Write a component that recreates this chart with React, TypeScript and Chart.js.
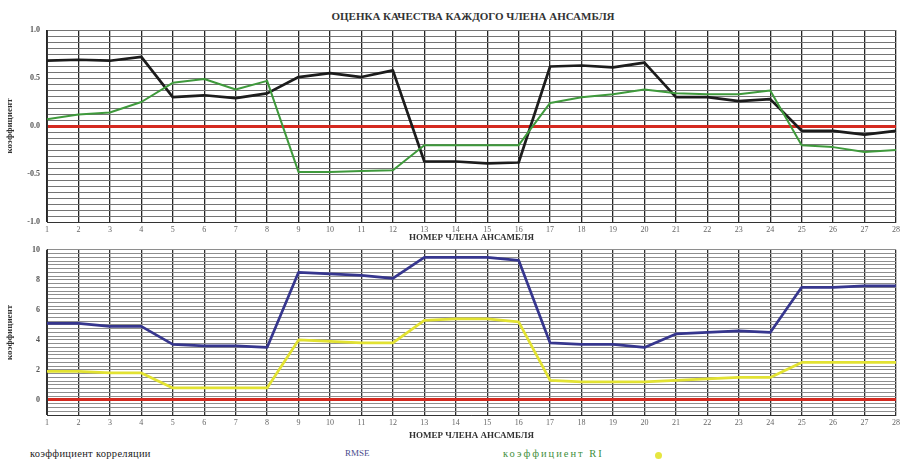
import React, { useEffect, useRef } from 'react';
import { Chart, registerables } from 'chart.js';

Chart.register(...registerables);

// Ensemble member numbers along the x axis
const members = ['1', '2', '3', '4', '5', '6', '7', '8', '9', '10', '11', '12', '13', '14',
  '15', '16', '17', '18', '19', '20', '21', '22', '23', '24', '25', '26', '27', '28'];

// Upper panel: correlation coefficient and the RI coefficient
const correlation = [0.68, 0.69, 0.68, 0.72, 0.30, 0.32, 0.29, 0.34, 0.51, 0.55, 0.51, 0.58, -0.37, -0.37,
  -0.39, -0.38, 0.62, 0.63, 0.61, 0.66, 0.30, 0.30, 0.26, 0.28, -0.05, -0.05, -0.09, -0.05];
const riCoefficient = [0.07, 0.12, 0.14, 0.25, 0.45, 0.49, 0.38, 0.47, -0.48, -0.48, -0.47, -0.46, -0.20, -0.20,
  -0.20, -0.20, 0.24, 0.30, 0.33, 0.38, 0.34, 0.33, 0.33, 0.37, -0.20, -0.22, -0.27, -0.25];

// Lower panel: RMSE and the second error measure
const rmse = [5.1, 5.1, 4.9, 4.9, 3.7, 3.6, 3.6, 3.5, 8.5, 8.4, 8.3, 8.1, 9.5, 9.5,
  9.5, 9.3, 3.8, 3.7, 3.7, 3.5, 4.4, 4.5, 4.6, 4.5, 7.5, 7.5, 7.6, 7.6];
const secondError = [1.9, 1.9, 1.8, 1.8, 0.8, 0.8, 0.8, 0.8, 4.0, 3.9, 3.8, 3.8, 5.3, 5.4,
  5.4, 5.2, 1.3, 1.2, 1.2, 1.2, 1.3, 1.4, 1.5, 1.5, 2.5, 2.5, 2.5, 2.5];

const upperLabels = [1.0, 0.5, 0.0, -0.5, -1.0];
const lowerLabels = [10, 8, 6, 4, 2, 0];

const TITLE = 'ОЦЕНКА КАЧЕСТВА КАЖДОГО ЧЛЕНА АНСАМБЛЯ';
const X_TITLE = 'НОМЕР ЧЛЕНА АНСАМБЛЯ';
const Y_TITLE = 'коэффициент';

const SERIF = '"Liberation Serif", "DejaVu Serif", serif';

function buildOptions(opts: {
  min: number; max: number; step: number; labels: number[]; digits: number;
  padTop: number; xHeight: number; hGrid: string; vGrid: string;
}) {
  const near = (a: number, b: number) => Math.abs(a - b) < 1e-6;
  return {
    responsive: false,
    animation: false as const,
    layout: { padding: { top: opts.padTop, right: 6, bottom: 0, left: 0 } },
    plugins: { legend: { display: false }, tooltip: { enabled: false }, title: { display: false } },
    elements: { point: { radius: 0 }, line: { tension: 0, borderJoinStyle: 'round' as const } },
    scales: {
      x: {
        type: 'category' as const,
        offset: false,
        afterFit: (s: any) => { s.height = opts.xHeight; },
        grid: { color: opts.vGrid, lineWidth: 1.3, drawTicks: false },
        border: { color: '#333', width: 1 },
        ticks: {
          autoSkip: false, maxRotation: 0, padding: 3, color: '#666',
          font: { family: SERIF, size: 8 },
        },
        title: {
          display: true, text: X_TITLE, color: '#333', padding: { top: 0, bottom: 2 },
          font: { family: SERIF, size: 9, weight: 'bold' as const },
        },
      },
      y: {
        type: 'linear' as const,
        min: opts.min, max: opts.max,
        afterFit: (s: any) => { s.width = 47; },
        grid: {
          drawTicks: false,
          color: (c: any) => (c.tick && near(c.tick.value, 0) ? '#d42a20' : opts.hGrid),
          lineWidth: (c: any) => (c.tick && near(c.tick.value, 0) ? 3 : 1),
        },
        border: { color: '#333', width: 1 },
        ticks: {
          stepSize: opts.step, maxTicksLimit: 200, autoSkip: false, padding: 7, color: '#555',
          font: { family: SERIF, size: 8, weight: 'bold' as const },
          callback: (v: any) => {
            const hit = opts.labels.find((l) => near(l, Number(v)));
            return hit === undefined ? '' : hit.toFixed(opts.digits);
          },
        },
        title: {
          display: true, text: Y_TITLE, color: '#333', padding: { top: 4, bottom: 4 },
          font: { family: SERIF, size: 9, weight: 'bold' as const },
        },
      },
    },
  };
}

function line(label: string, data: number[], color: string, width: number) {
  return { label, data, borderColor: color, backgroundColor: color, borderWidth: width, fill: false };
}

export default function App() {
  const topRef = useRef<HTMLCanvasElement | null>(null);
  const bottomRef = useRef<HTMLCanvasElement | null>(null);

  useEffect(() => {
    const top = new Chart(topRef.current as HTMLCanvasElement, {
      type: 'line',
      data: {
        labels: members,
        datasets: [
          line('коэффициент RI', riCoefficient, '#3f9a3c', 2),
          line('коэффициент корреляции', correlation, '#1c1c1c', 2.7),
        ],
      },
      options: buildOptions({
        min: -1, max: 1, step: 0.0625, labels: upperLabels, digits: 1,
        padTop: 30, xHeight: 23, hGrid: '#747474', vGrid: '#262626',
      }) as any,
    });
    const bottom = new Chart(bottomRef.current as HTMLCanvasElement, {
      type: 'line',
      data: {
        labels: members,
        datasets: [
          line('второй показатель', secondError, '#e2e232', 2.7),
          line('RMSE', rmse, '#36368e', 2.7),
        ],
      },
      options: buildOptions({
        min: -1, max: 10, step: 0.25, labels: lowerLabels, digits: 0,
        padTop: 8, xHeight: 28, hGrid: '#8e8e8e', vGrid: '#303030',
      }) as any,
    });
    return () => { top.destroy(); bottom.destroy(); };
  }, []);

  const legendText: React.CSSProperties = {
    position: 'absolute', top: 448, fontSize: 10.5, fontFamily: SERIF, whiteSpace: 'nowrap',
  };

  return (
    <div style={{ position: 'absolute', left: 0, top: 0, width: 903, height: 461, background: '#fff', overflow: 'hidden' }}>
      <div style={{
        position: 'absolute', left: 473, top: 10, transform: 'translateX(-50%)', whiteSpace: 'nowrap',
        fontFamily: SERIF, fontWeight: 'bold', fontSize: 11, color: '#333',
      }}>{TITLE}</div>
      <canvas ref={topRef} width={903} height={245}
        style={{ position: 'absolute', left: 0, top: 0, width: 903, height: 245 }} />
      <canvas ref={bottomRef} width={903} height={205}
        style={{ position: 'absolute', left: 0, top: 238, width: 903, height: 205 }} />
      <div style={{ ...legendText, left: 30, color: '#222', letterSpacing: 0.3 }}>коэффициент корреляции</div>
      <div style={{ ...legendText, left: 345, color: '#4a4a8c', fontSize: 9 }}>RMSE</div>
      <div style={{ ...legendText, left: 503, color: '#3f8f3c', letterSpacing: 2 }}>коэффициент RI</div>
      <div style={{ position: 'absolute', left: 655, top: 452, width: 7, height: 7, borderRadius: 4, background: '#e6e640' }} />
    </div>
  );
}
